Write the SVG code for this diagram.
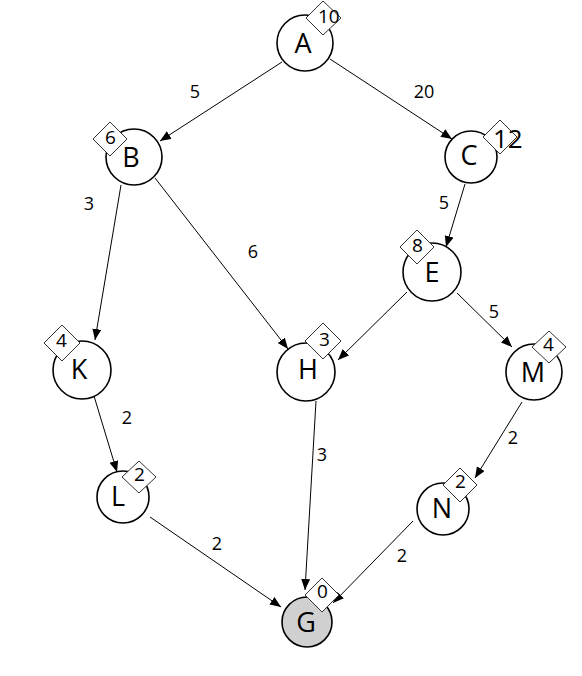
<svg xmlns="http://www.w3.org/2000/svg" width="582" height="676" viewBox="0 0 582 676">
<style>
.n{fill:#fff;stroke:#000;stroke-width:1.6}
.d{fill:#fff;stroke:#333;stroke-width:1}
.t{font-family:"Open Sans","Liberation Sans",Arial,sans-serif;font-size:27px;fill:#000;text-anchor:middle;dominant-baseline:central}
.h{font-family:"Open Sans","Liberation Sans",Arial,sans-serif;font-size:19px;fill:#000;dominant-baseline:central}
.e{stroke:#000;stroke-width:1;fill:none;marker-end:url(#ar)}
.w{font-family:"Open Sans","Liberation Sans",Arial,sans-serif;font-size:18px;fill:#000;text-anchor:middle;dominant-baseline:central}
</style>
<defs>
<marker id="ar" markerUnits="userSpaceOnUse" markerWidth="12" markerHeight="10" refX="11" refY="4.5" orient="auto">
<path d="M0,0 L11,4.5 L0,9 z" fill="#000"/>
</marker>
</defs>
<rect width="582" height="676" fill="#fff"/>
<g id="connectors">
<line class="e" x1="282" y1="62" x2="160" y2="141"/>
<line class="e" x1="330" y1="59" x2="452" y2="139"/>
<line class="e" x1="121" y1="185" x2="95" y2="340"/>
<line class="e" x1="155" y1="178" x2="288" y2="349"/>
<line class="e" x1="465" y1="184" x2="446" y2="247"/>
<line class="e" x1="407" y1="292" x2="338" y2="360"/>
<line class="e" x1="457" y1="293" x2="512" y2="347"/>
<line class="e" x1="94" y1="396" x2="117" y2="472"/>
<line class="e" x1="316" y1="401" x2="305" y2="590"/>
<line class="e" x1="522" y1="402" x2="475" y2="478"/>
<line class="e" x1="150" y1="517" x2="281" y2="607"/>
<line class="e" x1="413" y1="521" x2="333" y2="603"/>
<text class="w" x="195" y="91">5</text>
<text class="w" x="424" y="91">20</text>
<text class="w" x="89" y="203">3</text>
<text class="w" x="253" y="251">6</text>
<text class="w" x="444" y="202">5</text>
<text class="w" x="494" y="311">5</text>
<text class="w" x="127" y="417">2</text>
<text class="w" x="322" y="454">3</text>
<text class="w" x="513" y="437">2</text>
<text class="w" x="217" y="543">2</text>
<text class="w" x="402" y="555">2</text>
</g>
<g id="A"><circle class="n" cx="305" cy="43" r="28"/><text class="t" x="303" y="42">A</text><polygon class="d" points="323,1 341,18 323,35 306,18"/><text class="h" x="318" y="16">10</text></g>
<g id="B"><circle class="n" cx="134" cy="157" r="28"/><text class="t" x="131" y="156">B</text><polygon class="d" points="110,122 127,139 110,156 93,139"/><text class="h" x="105" y="137">6</text></g>
<g id="C"><circle class="n" cx="471" cy="157" r="26"/><text class="t" x="469" y="154">C</text><polygon class="d" points="500,120 517,137 500,154 483,137"/><text class="h" x="493" y="138" style="font-size:26px">12</text></g>
<g id="E"><circle class="n" cx="432" cy="272" r="29"/><text class="t" x="432" y="271">E</text><polygon class="d" points="417,230 434,247 417,264 400,247"/><text class="h" x="412" y="245">8</text></g>
<g id="K"><circle class="n" cx="82" cy="370" r="29"/><text class="t" x="79" y="368">K</text><polygon class="d" points="62,325 80,343 62,361 44,343"/><text class="h" x="56" y="340">4</text></g>
<g id="H"><circle class="n" cx="306" cy="372" r="29"/><text class="t" x="308" y="368">H</text><polygon class="d" points="323,323 341,341 323,359 305,341"/><text class="h" x="319" y="339">3</text></g>
<g id="M"><circle class="n" cx="534" cy="372" r="28"/><text class="t" x="533" y="371">M</text><polygon class="d" points="549,331 566,347 549,363 532,347"/><text class="h" x="543" y="344">4</text></g>
<g id="L"><circle class="n" cx="123" cy="497" r="26"/><text class="t" x="118" y="495">L</text><polygon class="d" points="139,461 156,477 139,493 122,477"/><text class="h" x="134" y="474">2</text></g>
<g id="N"><circle class="n" cx="443" cy="509" r="26"/><text class="t" x="442" y="507">N</text><polygon class="d" points="460,468 477,485 460,502 443,485"/><text class="h" x="455" y="481">2</text></g>
<g id="G"><circle class="n" cx="307" cy="622" r="25" style="fill:#d0d0d0"/><text class="t" x="306" y="621">G</text><polygon class="d" points="322,578 339,595 322,612 305,595"/><text class="h" x="317" y="591">0</text></g>
</svg>
